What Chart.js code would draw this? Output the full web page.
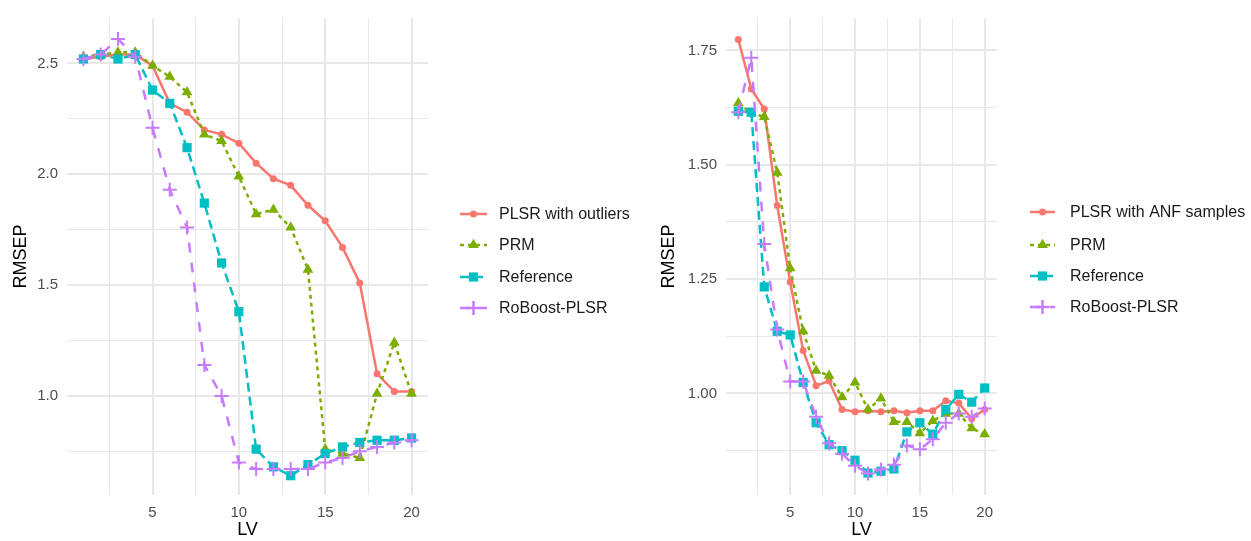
<!DOCTYPE html>
<html>
<head>
<meta charset="utf-8">
<script src="https://cdn.jsdelivr.net/npm/chart.js@4"></script>
<style>
  body { margin:0; background:#fff; }
  #left { position:absolute; left:0; top:0; }
  #right { position:absolute; left:645px; top:0; }
</style>
</head>
<body>
<canvas id="left" width="645" height="541"></canvas>
<canvas id="right" width="606" height="541"></canvas>
<script>
let lv = [1,2,3,4,5,6,7,8,9,10,11,12,13,14,15,16,17,18,19,20];

// left panel
let plsrOutliers = [2.52,2.53,2.54,2.54,2.49,2.32,2.28,2.20,2.18,2.14,2.05,1.98,1.95,1.86,1.79,1.67,1.51,1.10,1.02,1.02];
let prmLeft = [2.53,2.54,2.55,2.55,2.49,2.44,2.37,2.18,2.15,1.99,1.82,1.84,1.76,1.57,0.76,0.74,0.72,1.01,1.24,1.01];
let refLeft = [2.52,2.54,2.52,2.54,2.38,2.32,2.12,1.87,1.60,1.38,0.76,0.68,0.64,0.69,0.74,0.77,0.79,0.80,0.80,0.81];
let roboostLeft = [2.52,2.54,2.61,2.53,2.21,1.93,1.76,1.14,1.00,0.70,0.67,0.67,0.67,0.67,0.70,0.72,0.75,0.77,0.79,0.80];
let leftNames = ['PLSR with outliers','PRM','Reference','RoBoost-PLSR'];
let leftTicks = [0.75,1.0,1.25,1.5,1.75,2.0,2.25,2.5];
let leftMajor = [1.0,1.5,2.0,2.5];

// right panel
let plsrAnf = [1.774,1.666,1.622,1.411,1.244,1.094,1.017,1.027,0.965,0.960,0.962,0.960,0.962,0.958,0.962,0.962,0.984,0.979,0.945,0.965];
let prmRight = [1.635,1.613,1.605,1.483,1.274,1.136,1.050,1.039,0.992,1.024,0.965,0.989,0.938,0.938,0.913,0.940,0.956,0.956,0.924,0.911];
let refRight = [1.617,1.615,1.233,1.136,1.128,1.024,0.936,0.888,0.875,0.854,0.826,0.830,0.835,0.916,0.936,0.911,0.965,0.998,0.981,1.012];
let roboostRight = [1.615,1.734,1.327,1.140,1.026,1.026,0.949,0.891,0.868,0.842,0.825,0.834,0.844,0.886,0.878,0.900,0.936,0.956,0.949,0.967];
let rightNames = ['PLSR with ANF samples','PRM','Reference','RoBoost-PLSR'];
let rightTicks = [0.875,1.0,1.125,1.25,1.375,1.5,1.625,1.75];
let rightMajor = [1.0,1.25,1.5,1.75];

let xTicks = [2.5,5,7.5,10,12.5,15,17.5,20];
let xMajor = [5,10,15,20];

let colors = ['#F8766D','#7CAE00','#00BFC4','#C77CFF'];
let dashes = [[], [4,4], [9,5], [10,10]];
let shapes = ['circle','triangle','rect','cross'];
let radii = [3.5, 6.2, 6.5, 7];
let font = "'Liberation Sans', Arial, sans-serif";

function pts(arr){
  return lv.map((x,i) => ({x:x, y:arr[i]}));
}

function make_datasets(series, names){
  return series.map((s, i) => ({
    label: names[i],
    data: pts(s),
    borderColor: colors[i],
    backgroundColor: colors[i],
    borderWidth: 2.5,
    borderDash: dashes[i],
    pointStyle: shapes[i],
    pointRadius: radii[i],
    pointBorderWidth: i == 3 ? 2 : 0,
    pointBackgroundColor: colors[i],
    pointBorderColor: colors[i],
    tension: 0,
    order: 4 - i
  }));
}

// ggplot-like legend: line segment + marker, drawn on the canvas
let keyLegend = {
  id: 'keyLegend',
  afterDraw(chart, args, opts){
    let ctx = chart.ctx;
    chart.data.datasets.forEach((ds, i) => {
      let y = opts.rows[i];
      ctx.save();
      ctx.strokeStyle = ds.borderColor;
      ctx.lineWidth = 2.5;
      ctx.setLineDash(ds.borderDash);
      ctx.beginPath();
      ctx.moveTo(opts.x0, y);
      ctx.lineTo(opts.x1, y);
      ctx.stroke();
      ctx.setLineDash([]);
      ctx.fillStyle = ds.pointBackgroundColor;
      ctx.strokeStyle = ds.pointBorderColor;
      Chart.helpers.drawPoint(ctx, {
        pointStyle: ds.pointStyle,
        radius: ds.pointRadius,
        borderWidth: ds.pointBorderWidth,
        rotation: 0
      }, (opts.x0 + opts.x1) / 2, y);
      ctx.fillStyle = '#1a1a1a';
      ctx.font = '16px ' + font;
      ctx.textBaseline = 'middle';
      ctx.textAlign = 'left';
      ctx.fillText(ds.label, opts.tx, y + 1);
      ctx.restore();
    });
  }
};

function make_chart(id, series, names, yMin, yMax, yTicks, yMajor, area, legend, titleX, decimals){
  let gridColor = '#e8e8e8';
  return new Chart(id, {
    type: 'line',
    data: { datasets: make_datasets(series, names) },
    plugins: [keyLegend],
    options: {
      responsive: false,
      animation: false,
      layout: { padding: { top: area.top, right: area.right, bottom: 0, left: 0 } },
      plugins: {
        legend: { display: false },
        tooltip: { enabled: false },
        keyLegend: legend
      },
      scales: {
        x: {
          type: 'linear',
          min: 0.05,
          max: 20.95,
          afterBuildTicks: s => { s.ticks = xTicks.map(v => ({value: v})); },
          afterFit: s => { s.height = 46; },
          border: { display: false },
          grid: {
            color: gridColor,
            drawTicks: false,
            lineWidth: c => xMajor.includes(c.tick.value) ? 2 : 1
          },
          ticks: {
            padding: 9,
            color: '#4d4d4d',
            font: { family: font, size: 15 },
            callback: v => xMajor.includes(v) ? String(v) : ''
          },
          title: {
            display: true,
            text: 'LV',
            color: '#000',
            font: { family: font, size: 18 },
            padding: { top: 3, bottom: 0 }
          }
        },
        y: {
          type: 'linear',
          min: yMin,
          max: yMax,
          afterBuildTicks: s => { s.ticks = yTicks.map(v => ({value: v})); },
          afterFit: s => { s.width = area.left; },
          border: { display: false },
          grid: {
            color: gridColor,
            drawTicks: false,
            lineWidth: c => yMajor.includes(c.tick.value) ? 2 : 1
          },
          ticks: {
            padding: 9,
            color: '#4d4d4d',
            font: { family: font, size: 15 },
            callback: v => yMajor.includes(v) ? v.toFixed(decimals) : ''
          },
          title: {
            display: true,
            text: 'RMSEP',
            color: '#000',
            font: { family: font, size: 18 },
            padding: { top: titleX, bottom: 0 }
          }
        }
      }
    }
  });
}

window.onload = function(){
  make_chart('left', [plsrOutliers, prmLeft, refLeft, roboostLeft], leftNames,
    0.553, 2.705, leftTicks, leftMajor,
    {left: 67, top: 17, right: 645 - 428},
    {x0: 460, x1: 487, tx: 499, rows: [214, 245, 277, 308]}, 10, 1);
  make_chart('right', [plsrAnf, prmRight, refRight, roboostRight], rightNames,
    0.778, 1.821, rightTicks, rightMajor,
    {left: 81, top: 17, right: 606 - 352},
    {x0: 385, x1: 410, tx: 425, rows: [212, 245, 276, 307]}, 13, 2);
}
</script>
</body>
</html>
